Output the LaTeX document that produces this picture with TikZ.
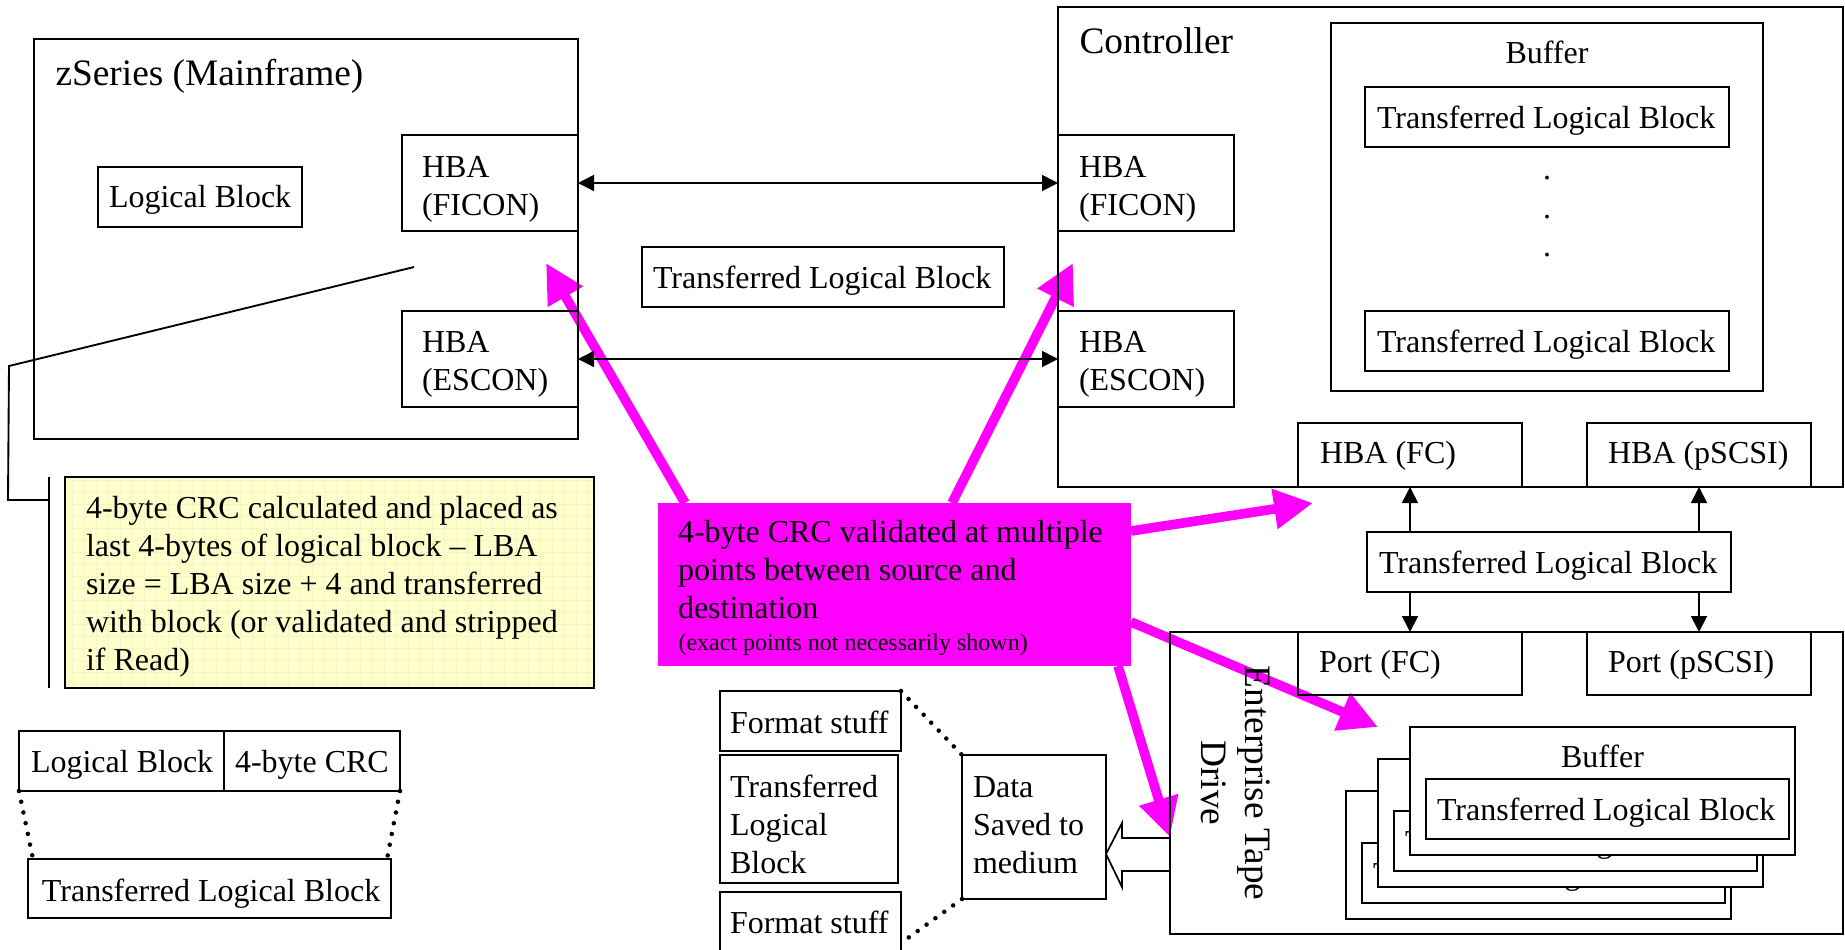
\documentclass[tikz,border=0pt]{standalone}
\usepackage{fontspec}
\setmainfont{Liberation Serif}
\usetikzlibrary{arrows.meta,calc}

\definecolor{crcmagenta}{HTML}{FF00FF}
\definecolor{noteyellow}{HTML}{FFFFCC}
\definecolor{notegrid}{HTML}{F6F6C4}

% framed box given by its corners (x1,y1)-(x2,y2) in picture units
\newcommand\blk[6][]{%
  \node[blk,#1,minimum width={(#5-#3)*0.375pt},minimum height={(#6-#4)*0.375pt}]
    (#2) at ({(#3+#5)/2},{(#4+#6)/2}) {};}
% text placed by the left end of the baseline of its first line
\newcommand\txtat[5][]{%
  \node[txt,#1] (#2) at (#3,{#4-26.6}) {\strut #5};}

\begin{document}
\begin{tikzpicture}[x=0.375pt,y=-0.375pt,
  font=\fontsize{12}{14.25}\selectfont,
  blk/.style={draw,line width=0.7pt,inner sep=0pt,outer sep=0pt},
  txt/.style={anchor=north west,inner sep=0pt,outer sep=0pt,align=left},
  big/.style={font=\fontsize{14}{16.5}\selectfont},
  tip/.tip={Triangle[length=6pt,width=6pt]},
  arr/.style={line width=0.65pt,-tip},
  rarr/.style={line width=0.65pt,tip-},
  darr/.style={line width=0.65pt,tip-tip},
  crcarrow/.style={draw=crcmagenta,line width=3.6pt,-{Triangle[length=14.6pt,width=14.3pt]}},
  dotline/.style={line width=1.7pt,line cap=round,dash pattern=on 0pt off 4.1pt},
  leader/.style={line width=0.7pt},
  hollow/.style={line width=0.65pt,line join=miter}]

\useasboundingbox (0,0) rectangle (1845,949);

% ---- note on the CRC, with its callout bracket
\blk[draw=none,fill=noteyellow]{note}{65}{477}{594}{688}
\begin{scope}
  \clip (note.south west) rectangle (note.north east);
  \draw[notegrid,line width=0.3pt,step=4.5pt] (note.south west) grid (note.north east);
\end{scope}
\draw[line width=0.7pt] (note.north west) rectangle (note.south east);

\coordinate (calloutTip) at (414,267);
\coordinate (calloutBend) at (9,366);
\coordinate (calloutFoot) at (8,500);
\coordinate (bracketTop) at ($(note.north west)+(-16,0)$);
\coordinate (bracketBot) at ($(note.south west)+(-16,0)$);
\draw[leader] (calloutTip) -- (calloutBend) -- (calloutFoot) -- (bracketTop |- calloutFoot);
\draw[leader] (bracketTop) -- (bracketBot);

% ---- CRC validation box and its pointers
\blk[draw=none,fill=crcmagenta]{crc}{658}{503}{1131}{666}
\coordinate (mt1) at (546,263);
\coordinate (mt2) at (1073,263);
\coordinate (mt3) at (1313,503);
\coordinate (mt4) at (1378,727);
\coordinate (mt5) at (1170,837);
\draw[crcarrow] ($(crc.north west)+(27,0)$) -- (mt1);
\draw[crcarrow] ($(crc.north west)+(294,0)$) -- (mt2);
\draw[crcarrow] ($(crc.north east)+(0,28)$) -- (mt3);
\draw[crcarrow] ($(crc.north east)+(0,119)$) -- (mt4);
\draw[crcarrow] ($(crc.south east)+(-13,0)$) -- (mt5);

% ---- mainframe
\blk{zseries}{34}{39}{578}{439}
\blk{zlb}{98}{167}{302}{227}
\blk{zficon}{402}{135}{578}{231}
\blk{zescon}{402}{311}{578}{407}

% ---- controller
\blk{ctrl}{1058}{7}{1843}{487}
\blk{cficon}{1058}{135}{1234}{231}
\blk{cescon}{1058}{311}{1234}{407}
\blk{cbuf}{1331}{23}{1763}{391}
\blk{cbufA}{1365}{87}{1729}{147}
\blk{cbufB}{1365}{311}{1729}{371}
\blk{hbafc}{1298}{423}{1522}{487}
\blk{hbaps}{1587}{423}{1811}{487}

% ---- blocks in flight
\blk{midtlb}{642}{247}{1004}{307}
\blk{linktlb}{1367}{532}{1731}{592}

% ---- tape drive
\blk{drive}{1170}{632}{1843}{934}
\blk{portfc}{1298}{632}{1522}{695}
\blk{portps}{1587}{632}{1811}{695}

% stacked drive buffers, back to front
\foreach \k in {2,1,0}{
  \pgfmathsetmacro\ox{-32*\k}
  \pgfmathsetmacro\oy{32*\k}
  \begin{scope}[shift={(\ox,\oy)}]
    \blk[fill=white]{dbuf\k}{1410}{727}{1795}{855}
    \blk[fill=white]{dtlb\k}{1426}{779}{1789}{839}
    \node[anchor=base,inner sep=0pt] (dbuft\k) at (dbuf\k.center |- 0,767) {Buffer};
    \txtat{dtlbt\k}{1437}{820}{Transferred Logical Block}
  \end{scope}
}

% ---- medium layout
\blk{fmtA}{720}{691}{901}{751}
\blk{fmtT}{720}{755}{898}{883}
\blk{fmtB}{720}{892}{901}{985}
\blk{saved}{962}{755}{1106}{899}
\draw[dotline] (fmtA.north east) -- (saved.north west);
\draw[dotline] (saved.south west) -- ($(fmtB.north east)+(0,51)$);

\draw[hollow] (drive.west |- 0,838) -- (1122,838) -- (1122,823)
  -- (saved.east |- 0,854) -- (1122,887) -- (1122,871) -- (drive.west |- 0,871);

% ---- block with appended CRC
\blk{lbA}{19}{731}{224}{791}
\blk{lbB}{224}{731}{400}{791}
\blk{lbT}{28}{859}{391}{918}
\draw[dotline] (lbA.south west) -- ($(lbT.north west)+(5,0)$);
\draw[dotline] (lbB.south east) -- ($(lbT.north east)+(-4,0)$);

% ---- links
\draw[darr] (zficon.east) -- (cficon.west);
\draw[darr] (zescon.east) -- (cescon.west);
\draw[rarr] (hbafc.south) -- (hbafc.south |- linktlb.north);
\draw[rarr] (hbaps.south) -- (hbaps.south |- linktlb.north);
\draw[arr] (portfc.north |- linktlb.south) -- (portfc.north);
\draw[arr] (portps.north |- linktlb.south) -- (portps.north);

% ---- labels
\node[big,anchor=base west,inner sep=0pt] (zseriest) at (55,85) {zSeries (Mainframe)};
\node[big,anchor=base west,inner sep=0pt] (ctrlt) at (1079,53) {Controller};
\txtat{zlbt}{109}{207}{Logical Block}
\txtat{zficont}{422}{177}{HBA\\(FICON)}
\txtat{zescont}{422}{352}{HBA\\(ESCON)}
\txtat{cficont}{1079}{177}{HBA\\(FICON)}
\txtat{cescont}{1079}{352}{HBA\\(ESCON)}
\node[anchor=base,inner sep=0pt] (cbuft) at (cbuf.center |- 0,63) {Buffer};
\txtat{cbufAt}{1377}{128}{Transferred Logical Block}
\txtat{cbufBt}{1377}{352}{Transferred Logical Block}
\node[anchor=base,inner sep=0pt] (bd1) at (1547,179) {.};
\node[anchor=base,inner sep=0pt] (bd2) at (1547,218) {.};
\node[anchor=base,inner sep=0pt] (bd3) at (1547,256) {.};
\txtat{hbafct}{1320}{463}{HBA (FC)}
\txtat{hbapst}{1608}{463}{HBA (pSCSI)}
\txtat{midtlbt}{653}{288}{Transferred Logical Block}
\txtat{linktlbt}{1379}{573}{Transferred Logical Block}
\txtat{portfct}{1319}{672}{Port (FC)}
\txtat{portpst}{1608}{672}{Port (pSCSI)}
\txtat{notet}{86}{518}{4-byte CRC calculated and placed as\\
  last 4-bytes of logical block – LBA\\
  size = LBA size + 4 and transferred\\
  with block (or validated and stripped\\
  if Read)}
\txtat{crct}{678}{542}{4-byte CRC validated at multiple\\
  points between source and\\
  destination}
\node[anchor=base west,inner sep=0pt,font=\fontsize{9}{10.5}\selectfont] (crcnote) at (678,650)
  {(exact points not necessarily shown)};
\txtat{fmtAt}{730}{733}{Format stuff}
\txtat{fmtTt}{730}{797}{Transferred\\Logical\\Block}
\txtat{fmtBt}{730}{933}{Format stuff}
\txtat{savedt}{973}{797}{Data\\Saved to\\medium}
\txtat{lbAt}{31}{772}{Logical Block}
\txtat{lbBt}{235}{772}{4-byte CRC}
\txtat{lbTt}{42}{901}{Transferred Logical Block}
\node[big,rotate=-90,align=center,inner sep=0pt] (drivet) at (1236,783) {Enterprise Tape\\Drive};

\end{tikzpicture}
\end{document}
